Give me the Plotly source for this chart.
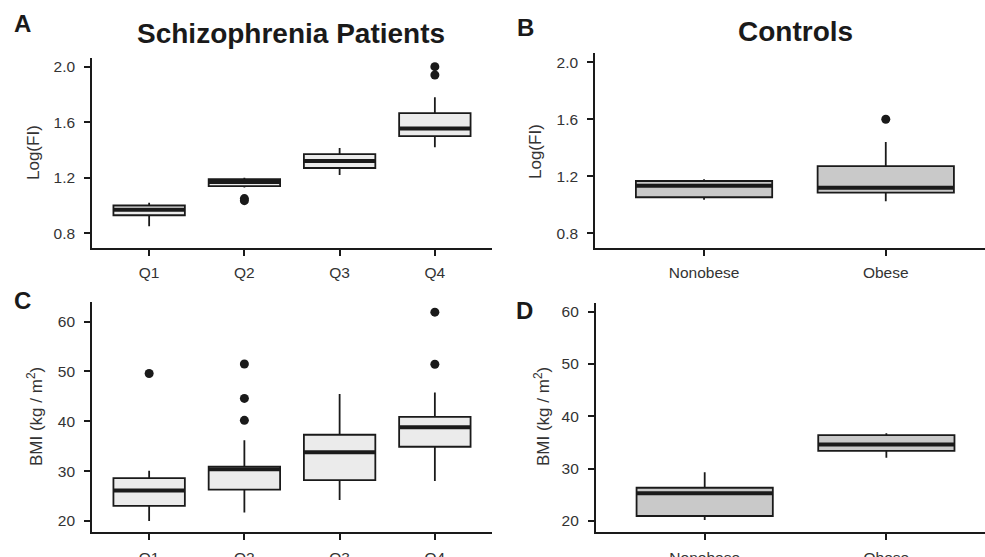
import plotly.graph_objects as go

# ---------------- data ----------------
cats_sz = ["Q1", "Q2", "Q3", "Q4"]
cats_ctrl = ["Nonobese", "Obese"]

# Panel A: Log(FI), schizophrenia patients
fi_sz_low = [0.85, 1.13, 1.22, 1.42]
fi_sz_q1 = [0.93, 1.14, 1.27, 1.50]
fi_sz_med = [0.97, 1.17, 1.32, 1.555]
fi_sz_q3 = [1.00, 1.19, 1.37, 1.665]
fi_sz_high = [1.02, 1.20, 1.415, 1.78]
fi_sz_out_cat = ["Q2", "Q2", "Q4", "Q4"]
fi_sz_out_val = [1.035, 1.05, 1.94, 2.0]

# Panel B: Log(FI), controls
fi_ctrl_low = [1.035, 1.025]
fi_ctrl_q1 = [1.053, 1.085]
fi_ctrl_med = [1.134, 1.12]
fi_ctrl_q3 = [1.167, 1.272]
fi_ctrl_high = [1.179, 1.44]
fi_ctrl_out_cat = ["Obese"]
fi_ctrl_out_val = [1.60]

# Panel C: BMI, schizophrenia patients
bmi_sz_low = [20.0, 21.7, 24.2, 28.0]
bmi_sz_q1 = [23.05, 26.3, 28.2, 34.9]
bmi_sz_med = [26.1, 30.4, 33.8, 38.8]
bmi_sz_q3 = [28.6, 30.9, 37.3, 40.9]
bmi_sz_high = [30.1, 36.2, 45.5, 45.8]
bmi_sz_out_cat = ["Q1", "Q2", "Q2", "Q2", "Q4", "Q4"]
bmi_sz_out_val = [49.6, 51.5, 44.6, 40.2, 61.9, 51.45]

# Panel D: BMI, controls
bmi_ctrl_low = [20.2, 32.1]
bmi_ctrl_q1 = [20.95, 33.4]
bmi_ctrl_med = [25.3, 34.6]
bmi_ctrl_q3 = [26.35, 36.4]
bmi_ctrl_high = [29.3, 36.75]
bmi_ctrl_out_cat = []
bmi_ctrl_out_val = []

fi_ticks = [0.8, 1.2, 1.6, 2.0]
bmi_ticks = [20, 30, 40, 50, 60]

# ---------------- style ----------------
DARK = "#1a1a1a"
TICKC = "#333333"
FONT = "Liberation Sans, Arial, sans-serif"
BOXW = 0.75

fig = go.Figure()


def add_panel(ax, cats, low, q1, med, q3, high, out_cat, out_val, fill):
    pos = list(range(1, len(cats) + 1))
    xa = "x" if ax == 1 else f"x{ax}"
    ya = "y" if ax == 1 else f"y{ax}"
    fig.add_trace(go.Box(
        x=pos, q1=q1, median=med, q3=q3, lowerfence=low, upperfence=high,
        width=BOXW, fillcolor=fill, whiskerwidth=0,
        line=dict(color=DARK, width=1.8), boxpoints=False,
        xaxis=xa, yaxis=ya, showlegend=False, hoverinfo="skip"))
    mx, my = [], []
    for p, m in zip(pos, med):
        mx += [p - BOXW / 2, p + BOXW / 2, None]
        my += [m, m, None]
    fig.add_trace(go.Scatter(x=mx, y=my, mode="lines",
                             line=dict(color=DARK, width=4),
                             xaxis=xa, yaxis=ya, showlegend=False,
                             hoverinfo="skip"))
    if out_cat:
        ox = [pos[cats.index(c)] for c in out_cat]
        fig.add_trace(go.Scatter(x=ox, y=out_val, mode="markers",
                                 marker=dict(color=DARK, size=9),
                                 xaxis=xa, yaxis=ya, showlegend=False,
                                 hoverinfo="skip"))


add_panel(1, cats_sz, fi_sz_low, fi_sz_q1, fi_sz_med, fi_sz_q3, fi_sz_high,
          fi_sz_out_cat, fi_sz_out_val, "#ebebeb")
add_panel(2, cats_ctrl, fi_ctrl_low, fi_ctrl_q1, fi_ctrl_med, fi_ctrl_q3,
          fi_ctrl_high, fi_ctrl_out_cat, fi_ctrl_out_val, "#c9c9c9")
add_panel(3, cats_sz, bmi_sz_low, bmi_sz_q1, bmi_sz_med, bmi_sz_q3,
          bmi_sz_high, bmi_sz_out_cat, bmi_sz_out_val, "#ebebeb")
add_panel(4, cats_ctrl, bmi_ctrl_low, bmi_ctrl_q1, bmi_ctrl_med, bmi_ctrl_q3,
          bmi_ctrl_high, bmi_ctrl_out_cat, bmi_ctrl_out_val, "#c9c9c9")

W, H = 985, 557


def axstyle(standoff, **kw):
    d = dict(showline=True, linecolor=DARK, linewidth=1.6, ticks="outside",
             ticklen=6, tickwidth=1.5, tickcolor=DARK, showgrid=False,
             zeroline=False, fixedrange=True, automargin=False,
             ticklabelstandoff=standoff,
             tickfont=dict(family=FONT, size=15.5, color=TICKC))
    d.update(kw)
    return d


fig.update_layout(
    width=W, height=H, margin=dict(l=0, r=0, t=0, b=0, autoexpand=False),
    paper_bgcolor="white", plot_bgcolor="white",
    xaxis=axstyle(3, domain=[92 / W, 492 / W], range=[0.4, 4.6], anchor="y",
                  tickvals=list(range(1, len(cats_sz) + 1)), ticktext=cats_sz),
    yaxis=axstyle(6, domain=[1 - 248.3 / H, 1 - 58.3 / H], range=[0.692, 2.06],
                  anchor="x", tickvals=fi_ticks, tickformat=".1f"),
    xaxis2=axstyle(3, domain=[595 / W, 1.0], range=[0.4, 2.546], anchor="y2",
                   tickvals=list(range(1, len(cats_ctrl) + 1)), ticktext=cats_ctrl),
    yaxis2=axstyle(6, domain=[1 - 248.3 / H, 1 - 53.3 / H], range=[0.695, 2.063],
                   anchor="x2", tickvals=fi_ticks, tickformat=".1f"),
    xaxis3=axstyle(5, domain=[92 / W, 492 / W], range=[0.4, 4.6], anchor="y3",
                   tickvals=list(range(1, len(cats_sz) + 1)), ticktext=cats_sz),
    yaxis3=axstyle(6, domain=[1 - 531.7 / H, 1 - 301.7 / H], range=[17.85, 64.0],
                   anchor="x3", tickvals=bmi_ticks),
    xaxis4=axstyle(5, domain=[595.7 / W, 1.0], range=[0.4, 2.543], anchor="y4",
                   tickvals=list(range(1, len(cats_ctrl) + 1)), ticktext=cats_ctrl),
    yaxis4=axstyle(6, domain=[1 - 531.7 / H, 1 - 302.7 / H], range=[17.95, 61.7],
                   anchor="x4", tickvals=bmi_ticks),
)


def ann(text, x, y, size, bold=False, angle=0, color=DARK):
    fig.add_annotation(text=text, x=x / W, y=1 - y / H, xref="paper",
                       yref="paper", showarrow=False, xanchor="center",
                       yanchor="middle", textangle=angle,
                       font=dict(family=FONT, size=size, color=color,
                                 weight="bold" if bold else "normal"))


ann("Schizophrenia Patients", 291, 33, 28, bold=True)
ann("Controls", 795, 32, 28, bold=True)
ann("A", 22, 24, 24, bold=True)
ann("B", 525, 27, 24, bold=True)
ann("C", 22, 300, 24, bold=True)
ann("D", 524, 310, 24, bold=True)
ann("Log(FI)", 33, 153, 17, angle=-90, color=TICKC)
ann("Log(FI)", 535, 152, 17, angle=-90, color=TICKC)
ann("BMI (kg / m<sup>2</sup>)", 35, 417, 17, angle=-90, color=TICKC)
ann("BMI (kg / m<sup>2</sup>)", 542, 417, 17, angle=-90, color=TICKC)

fig.write_html(
    "out.html",
    config={"displayModeBar": False},
    post_script="document.documentElement.style.margin='0';document.body.style.margin='0';",
)
